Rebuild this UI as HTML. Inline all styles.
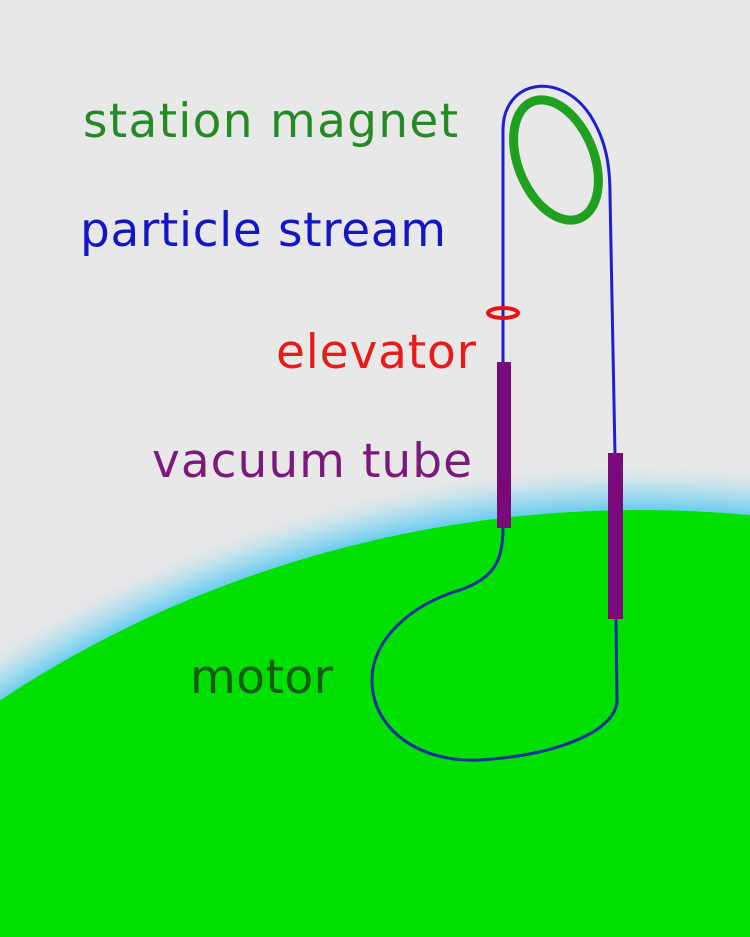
<!DOCTYPE html>
<html><head><meta charset="utf-8"><style>
html,body{margin:0;padding:0;background:#e8e8e8;width:750px;height:937px;overflow:hidden;position:relative;}
svg{display:block;position:absolute;left:0;top:0}
text{font-family:"DejaVu Sans","Liberation Sans",sans-serif;font-size:47px}
</style></head><body>
<svg width="750" height="937" viewBox="0 0 750 937" xmlns="http://www.w3.org/2000/svg">
<defs>
<clipPath id="c"><rect width="750" height="937"/></clipPath>
<radialGradient id="g" cx="640" cy="1530" r="1150" gradientUnits="userSpaceOnUse" gradientTransform="translate(640 1530) scale(1 0.93) translate(-640 -1530)">
<stop offset="0.955" stop-color="#6fcdf0" stop-opacity="1"/>
<stop offset="0.975" stop-color="#a5dcef" stop-opacity="0.7"/>
<stop offset="1" stop-color="#e8e8e8" stop-opacity="0"/>
</radialGradient>
</defs>
<g clip-path="url(#c)">
<rect width="750" height="937" fill="#e8e8e8"/>
<rect width="750" height="937" fill="url(#g)"/>
<ellipse cx="640" cy="1530" rx="1100" ry="1020" fill="#00e000"/>
<path d="M503,527 C503,560 495,578 460,590 C410,605 372,640 372,680 C372,730 420,763 480,760 C560,755 617,730 617,700 L616,618" fill="none" stroke="#1a2ea0" stroke-width="3"/>
<path d="M503,362 L503,130 C503,80 560,70 590,115 C606,140 610,165 610,195 L615,455" fill="none" stroke="#2020d0" stroke-width="3"/>
<ellipse cx="556" cy="160" rx="38" ry="63" transform="rotate(-22 556 160)" fill="none" stroke="#1fa01f" stroke-width="9"/>
<ellipse cx="503" cy="313" rx="15" ry="5" fill="none" stroke="#e81010" stroke-width="4"/>
<rect x="497" y="362" width="14" height="166" fill="#7a0a7a"/>
<rect x="608" y="453" width="15" height="166" fill="#7a0a7a"/>
<text x="83" y="137" fill="#258a25" textLength="375" lengthAdjust="spacing">station magnet</text>
<text x="80" y="246" fill="#1515c8" textLength="366" lengthAdjust="spacing">particle stream</text>
<text x="276" y="368" fill="#e81a1a" textLength="200" lengthAdjust="spacing">elevator</text>
<text x="152" y="477" fill="#7a1a7a" textLength="320" lengthAdjust="spacing">vacuum tube</text>
<text x="190" y="693" fill="#155a15" textLength="143" lengthAdjust="spacing">motor</text>
</g>
</svg>
</body></html>
